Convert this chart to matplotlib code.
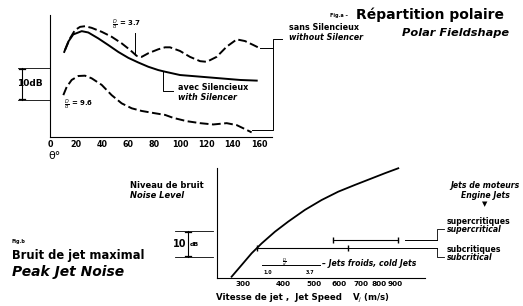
import numpy as np
import matplotlib
matplotlib.use("Agg")
import matplotlib.pyplot as plt
from matplotlib.lines import Line2D
from matplotlib.ticker import FixedLocator, NullLocator, FuncFormatter

## polar fieldshape (fig a): angle (deg) vs level (dB, arbitrary zero)
theta_sans_37 = [11.5, 15.3, 19.1, 23.0, 26.8, 31.9, 39.6, 47.2, 54.9, 61.3, 66.4, 70.2, 75.3,
                 82.9, 88.1, 91.9, 99.5, 107.2, 114.9, 120.0, 127.6, 135.3, 143.0, 149.3, 155.7, 160.8]
level_sans_37 = [26.4, 29.9, 32.4, 33.4, 33.6, 33.1, 31.9, 30.4, 28.4, 26.4, 24.6, 24.3, 25.4,
                 26.6, 27.2, 27.2, 26.1, 24.3, 23.0, 22.8, 24.3, 27.4, 29.6, 29.1, 27.9, 26.9]

theta_avec = [10.9, 14.0, 17.8, 24.3, 29.3, 37.0, 44.6, 52.3, 60.0, 67.6, 75.3, 82.9, 88.1,
              99.5, 114.9, 130.2, 145.5, 158.3]
level_avec = [25.8, 28.9, 31.1, 32.1, 31.7, 29.9, 27.9, 25.8, 24.0, 22.6, 21.3, 20.3, 19.8,
              18.8, 18.3, 17.8, 17.3, 17.1]

theta_sans_96 = [10.2, 12.8, 16.6, 21.7, 26.8, 31.9, 39.6, 47.2, 54.9, 62.6, 70.2, 80.4, 88.1,
                 94.4, 104.7, 114.9, 125.0, 135.3, 143.0, 149.3, 154.4]
level_sans_96 = [12.7, 15.2, 17.3, 18.5, 18.6, 17.8, 15.8, 12.7, 10.2, 8.7, 7.9, 7.2, 6.7,
                 5.8, 4.8, 4.2, 3.8, 4.2, 3.6, 2.4, 1.4]

theta_ticks = [0, 20, 40, 60, 80, 100, 120, 140, 160]

## peak jet noise (fig b): jet speed (m/s) vs level (dB)
vj = [276.6, 297.3, 319.4, 343.3, 377.8, 415.8, 468.8, 528.7, 595.8, 671.9, 757.5, 833.7, 917.5]
noise = [0.5, 5.0, 9.5, 13.3, 17.8, 21.7, 26.2, 30.0, 33.2, 35.8, 38.3, 40.3, 42.2]

supercrit = [573, 915]
supercrit_lvl = 14.6
subcrit = [332, 638]
subcrit_lvl = 11.5
cold = [344, 522]
cold_lvl = 5.0

vj_ticks = [300, 400, 500, 600, 700, 800, 900]

W, H = 523, 306
fig = plt.figure(figsize=(W / 100, H / 100), dpi=100)

def fx(px):
    return px / W

def fy(py):
    return 1 - py / H

def px_line(xs, ys, lw=0.8):
    fig.add_artist(Line2D([fx(x) for x in xs], [fy(y) for y in ys],
                          transform=fig.transFigure, color='k', lw=lw))

def px_text(x, y, s, **kw):
    kw.setdefault('fontsize', 5.5)
    kw.setdefault('fontweight', 'bold')
    kw.setdefault('va', 'center')
    fig.text(fx(x), fy(y), s, **kw)

##---------------- fig a ----------------
ax1 = fig.add_axes([fx(50), fy(137), fx(272) - fx(50), fy(15) - fy(137)])
ax1.plot(theta_sans_37, level_sans_37, color='k', lw=1.4, dashes=(4.5, 1.8), clip_on=False)
ax1.plot(theta_avec, level_avec, color='k', lw=1.4, clip_on=False)
ax1.plot(theta_sans_96, level_sans_96, color='k', lw=1.4, dashes=(4.5, 1.8), clip_on=False)
ax1.set_xlim(0, 170)
ax1.set_ylim(0, 37)
ax1.xaxis.set_major_locator(FixedLocator(theta_ticks))
ax1.set_yticks([])
ax1.tick_params(axis='x', length=0, pad=2, labelsize=5.8)
for lab in ax1.get_xticklabels():
    lab.set_fontweight('bold')
for s in ['top', 'right']:
    ax1.spines[s].set_visible(False)
for s in ['left', 'bottom']:
    ax1.spines[s].set_linewidth(0.8)
ax1.patch.set_alpha(0)

# bracket joining the two "without silencer" curves
ax1.plot([theta_sans_37[-1], 170.8, 170.8, theta_sans_96[-1]],
         [level_sans_37[-1], level_sans_37[-1], 2.1, 2.1], color='k', lw=0.7, clip_on=False)
ax1.plot([170.8, 170.8, 178], [level_sans_37[-1], 29.7, 29.7], color='k', lw=0.7, clip_on=False)
px_text(289, 28, "sans Silencieux", fontsize=5.8)
px_text(289, 38, "without Silencer", fontsize=5.8, style='italic')

# with silencer leader
ax1.plot([86.5, 86.5, 94], [19.9, 13.9, 13.9], color='k', lw=0.7, clip_on=False)
px_text(178, 87, "avec Silencieux", fontsize=5.8)
px_text(178, 97, "with Silencer", fontsize=5.8, style='italic')

# D/d labels
ax1.plot([65, 65], [31.5, 24.8], color='k', lw=0.7)
px_text(112, 25, r"$\frac{D}{d}$ = 3.7", fontsize=5)
px_text(64, 105, r"$\frac{D}{d}$ = 9.6", fontsize=5)

# 10 dB scale (fig a)
px_line([18, 50], [68, 68], lw=0.6)
px_line([18, 50], [100, 100], lw=0.6)
px_line([22, 22], [68, 100], lw=0.8)
px_line([19, 25], [69, 69], lw=0.9)
px_line([19, 25], [99, 99], lw=0.9)
px_text(17, 84, "10dB", fontsize=6.5)
px_text(48, 156, "θ°", fontsize=8, fontweight='normal')

px_text(330, 16, "Fig.a –", fontsize=3.5)
px_text(356, 15, "Répartition polaire", fontsize=10)
px_text(402, 33, "Polar Fieldshape", fontsize=8.2, style='italic')

##---------------- fig b ----------------
ax2 = fig.add_axes([fx(217), fy(278), fx(425) - fx(217), fy(168) - fy(278)])
ax2.set_xscale('log')
ax2.plot(vj, noise, color='k', lw=1.3, clip_on=False)
ax2.set_xlim(249, 1112)
ax2.set_ylim(0, 42.3)
ax2.xaxis.set_major_locator(FixedLocator(vj_ticks))
ax2.xaxis.set_minor_locator(NullLocator())
ax2.xaxis.set_major_formatter(FuncFormatter(lambda v, p: "%d" % v))
ax2.set_yticks([])
ax2.tick_params(axis='x', length=0, pad=2.5, labelsize=5.2)
for lab in ax2.get_xticklabels():
    lab.set_fontweight('bold')
for s in ['top', 'right']:
    ax2.spines[s].set_visible(False)
for s in ['left', 'bottom']:
    ax2.spines[s].set_linewidth(0.8)
ax2.patch.set_alpha(0)

# engine jet ranges
ax2.plot(supercrit, [supercrit_lvl] * 2, color='k', lw=0.8, marker='|', ms=5, clip_on=False)
ax2.plot([960, 1212], [supercrit_lvl] * 2, color='k', lw=0.7, clip_on=False)
ax2.plot(subcrit, [subcrit_lvl] * 2, color='k', lw=0.8, marker='|', ms=5, clip_on=False)
ax2.plot([subcrit[0], 1212], [subcrit_lvl] * 2, color='k', lw=0.7, clip_on=False)
ax2.plot(cold, [cold_lvl] * 2, color='k', lw=0.7, clip_on=False)

px_line([437, 437, 444], [240, 229, 229], lw=0.6)
px_line([437, 437, 444], [248, 257, 257], lw=0.6)
px_text(447, 222, "supercritiques", fontsize=5.6)
px_text(447, 230, "supercritical", fontsize=5.6, style='italic')
px_text(447, 250, "subcritiques", fontsize=5.6)
px_text(447, 258, "subcritical", fontsize=5.6, style='italic')
px_text(485, 185, "Jets de moteurs", fontsize=5.6, ha='center', style='italic')
px_text(485, 195, "Engine Jets", fontsize=5.6, ha='center', style='italic')
px_text(485, 204, "▼", fontsize=5, ha='center')

px_text(282, 262, r"$\frac{D}{d}$", fontsize=4)
px_text(263, 272, "1.0", fontsize=3.5)
px_text(306, 272, "3.7", fontsize=3.5)
px_text(322, 264, "– Jets froids, cold Jets", fontsize=5.6, style='italic')

# 10 dB scale (fig b)
px_line([175, 213], [231, 231], lw=0.6)
px_line([175, 213], [257, 257], lw=0.6)
px_line([188, 188], [231, 257], lw=0.8)
px_line([185, 191], [232, 232], lw=0.9)
px_line([185, 191], [256, 256], lw=0.9)
px_text(186, 244, "10", fontsize=7, ha='right')
px_text(190, 244, "dB", fontsize=4.5)

px_text(130, 186, "Niveau de bruit", fontsize=6)
px_text(130, 196, "Noise Level", fontsize=6, style='italic')
px_text(12, 241, "Fig.b", fontsize=3.5)
px_text(12, 255, "Bruit de jet maximal", fontsize=8.3)
px_text(12, 272, "Peak Jet Noise", fontsize=10, style='italic')
px_text(216, 298, "Vitesse de jet ,  Jet Speed", fontsize=6.2)
px_text(352, 298, "V$_j$ (m/s)", fontsize=6.2)

fig.savefig('out.png', dpi=100)
